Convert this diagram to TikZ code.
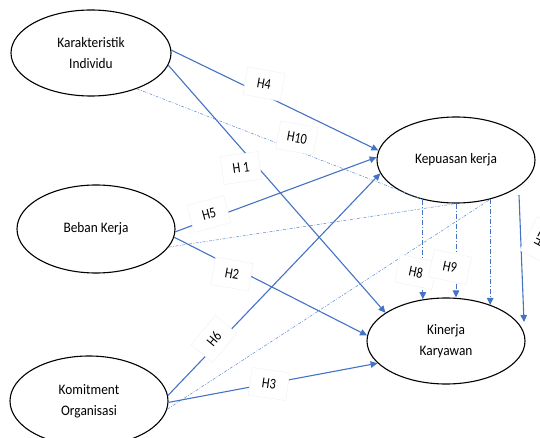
\documentclass[tikz,border=0pt]{standalone}
\usepackage{fontspec}
\setmainfont{Carlito}
\newfontfamily\ellfont[FakeStretch=0.92]{Carlito}
\newfontfamily\labfont[FakeStretch=0.82]{Carlito}
\usetikzlibrary{shapes.geometric,arrows.meta}
\definecolor{lb}{HTML}{4472C4}
\begin{document}
\begin{tikzpicture}[x=1pt,y=-1pt,
  ell/.style={ellipse, draw=black, line width=1.1pt, fill=white, align=center,
    font=\ellfont\fontsize{14.5}{21}\selectfont, inner sep=0pt, minimum width=158pt, minimum height=86pt},
  tip/.style={-{Triangle[length=7pt,width=6.5pt]}},
  arr/.style={draw=lb, line width=1.1pt, tip},
  dl/.style={draw=lb!85, line width=0.5pt, dash pattern=on 3pt off 1.5pt on 0.8pt off 1.5pt},
  vd/.style={draw=lb, line width=0.9pt, dash pattern=on 5pt off 2pt on 1pt off 2pt, tip},
  lab/.style={fill=white, draw=gray!12, line width=0.4pt, minimum width=38pt, minimum height=28pt,
    inner sep=1pt, font=\labfont\fontsize{15}{16}\selectfont}
]
\useasboundingbox (0,0) rectangle (540,438);
\clip (0,0) rectangle (540,438);
% nodes
\node[ell, minimum width=160pt] (KI) at (91,53) {Karakteristik\\Individu};
\node[ell, minimum height=88pt] (BK) at (96,229) {Beban Kerja};
\node[ell, minimum height=90pt] (KO) at (89,401) {Komitment\\Organisasi};
\node[ell] (KK) at (456,160) {Kepuasan kerja};
\node[ell] (KY) at (446,341) {Kinerja\\Karyawan};
\coordinate (h7a) at (519,195);
\coordinate (h7b) at (524,322);
% dashed indirect paths
\draw[dl] (KI.-38) -- (KK.230);
\draw[dl] (BK.-14) -- (KK.south);
\draw[dl] (KO.-6) -- (KK.-49);
\draw[vd] (KK.230) -- (KK.230 |- KY.118);
\draw[vd] (KK.south) -- (KK.south |- KY.north);
\draw[vd] (KK.-49) -- (KK.-49 |- KY.39);
% direct paths
\draw[arr] (KI.2) -- (KK.173);
\draw[arr] (KI.-9) -- (KY.155);
\draw[arr] (BK.-2) -- (KK.178);
\draw[arr] (BK.-6) -- (KY.176);
\draw[arr] (KO.4) -- (KK.190);
\draw[arr] (KO.-1) -- (KY.198);
\draw[arr] (h7a) -- (h7b);
% labels
\node[lab, rotate=-10] (l4) at (264,84) {H4};
\node[lab, rotate=-10] (l10) at (297,138) {H10};
\node[lab, rotate=8] (l1) at (241,168) {H 1};
\node[lab, rotate=15] (l5) at (209,214) {H5};
\node[lab, rotate=-10] (l2) at (232,274) {H2};
\node[lab, rotate=50] (l6) at (214,339) {H6};
\node[lab, rotate=-8] (l3) at (269,384) {H3};
\node[lab, rotate=-12] (l8) at (416,272) {H8};
\node[lab, rotate=-12] (l9) at (450,267) {H9};
\node[lab, rotate=62] (l7) at (541,240) {H7};
\end{tikzpicture}
\end{document}
